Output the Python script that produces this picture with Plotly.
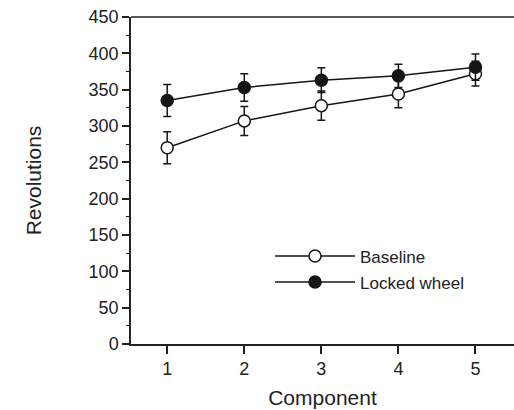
import plotly.graph_objects as go

components = [1, 2, 3, 4, 5]
baseline = [270, 307, 328, 344, 372]
baseline_err = [22, 20, 20, 19, 17]
locked = [335, 353, 363, 369, 381]
locked_err = [22, 19, 17, 16, 18]
y_ticks = [0, 50, 100, 150, 200, 250, 300, 350, 400, 450]

ink = "#161616"
fig = go.Figure()
fig.add_trace(go.Scatter(
    x=components, y=baseline, name="Baseline", mode="lines+markers", legendgroup="a",
    line=dict(color=ink, width=1.5),
    marker=dict(symbol="circle", size=12, color="white", line=dict(color=ink, width=1.5)),
    error_y=dict(type="data", array=baseline_err, color=ink, thickness=1.5, width=4),
))
fig.add_trace(go.Scatter(
    x=components, y=locked, name="Locked wheel", mode="lines+markers", legendgroup="b",
    line=dict(color=ink, width=1.5),
    marker=dict(symbol="circle", size=12, color=ink, line=dict(color=ink, width=1.5)),
    error_y=dict(type="data", array=locked_err, color=ink, thickness=1.5, width=4),
))

fam = "Liberation Sans, Arial, sans-serif"
fig.update_layout(
    width=514, height=410,
    margin=dict(l=131, r=0, t=17, b=66),
    paper_bgcolor="white", plot_bgcolor="white",
    font=dict(family=fam, size=17, color="#222"),
    showlegend=True,
    legend=dict(x=0.363, y=0.228, xanchor="left", yanchor="middle",
                bgcolor="rgba(0,0,0,0)", itemwidth=80, tracegroupgap=1,
                font=dict(family=fam, size=17, color="#222")),
    xaxis=dict(range=[0.53, 5.5], tickvals=components, ticks="outside", ticklen=8,
               tickwidth=1.5, tickcolor="#222", showline=True, linecolor="#222", linewidth=1.5,
               mirror=False, showgrid=False, zeroline=False, tickfont=dict(size=18),
               title=dict(text="Component", standoff=12, font=dict(size=21))),
    yaxis=dict(range=[0, 450], tickvals=y_ticks, ticks="outside", ticklen=7,
               tickwidth=1.5, tickcolor="#222", showline=True, linecolor="#222", linewidth=1.5,
               showgrid=False, zeroline=False, tickfont=dict(size=18),
               minor=dict(dtick=25, ticks="outside", ticklen=3, tickwidth=1.2, tickcolor="#222", showgrid=False),
               title=dict(text="Revolutions", standoff=41, font=dict(size=21))),
    shapes=[dict(type="line", xref="paper", yref="paper", x0=0, x1=1, y0=1, y1=1,
                 line=dict(color="#222", width=1.5))],
)
fig.write_html("out.html")
